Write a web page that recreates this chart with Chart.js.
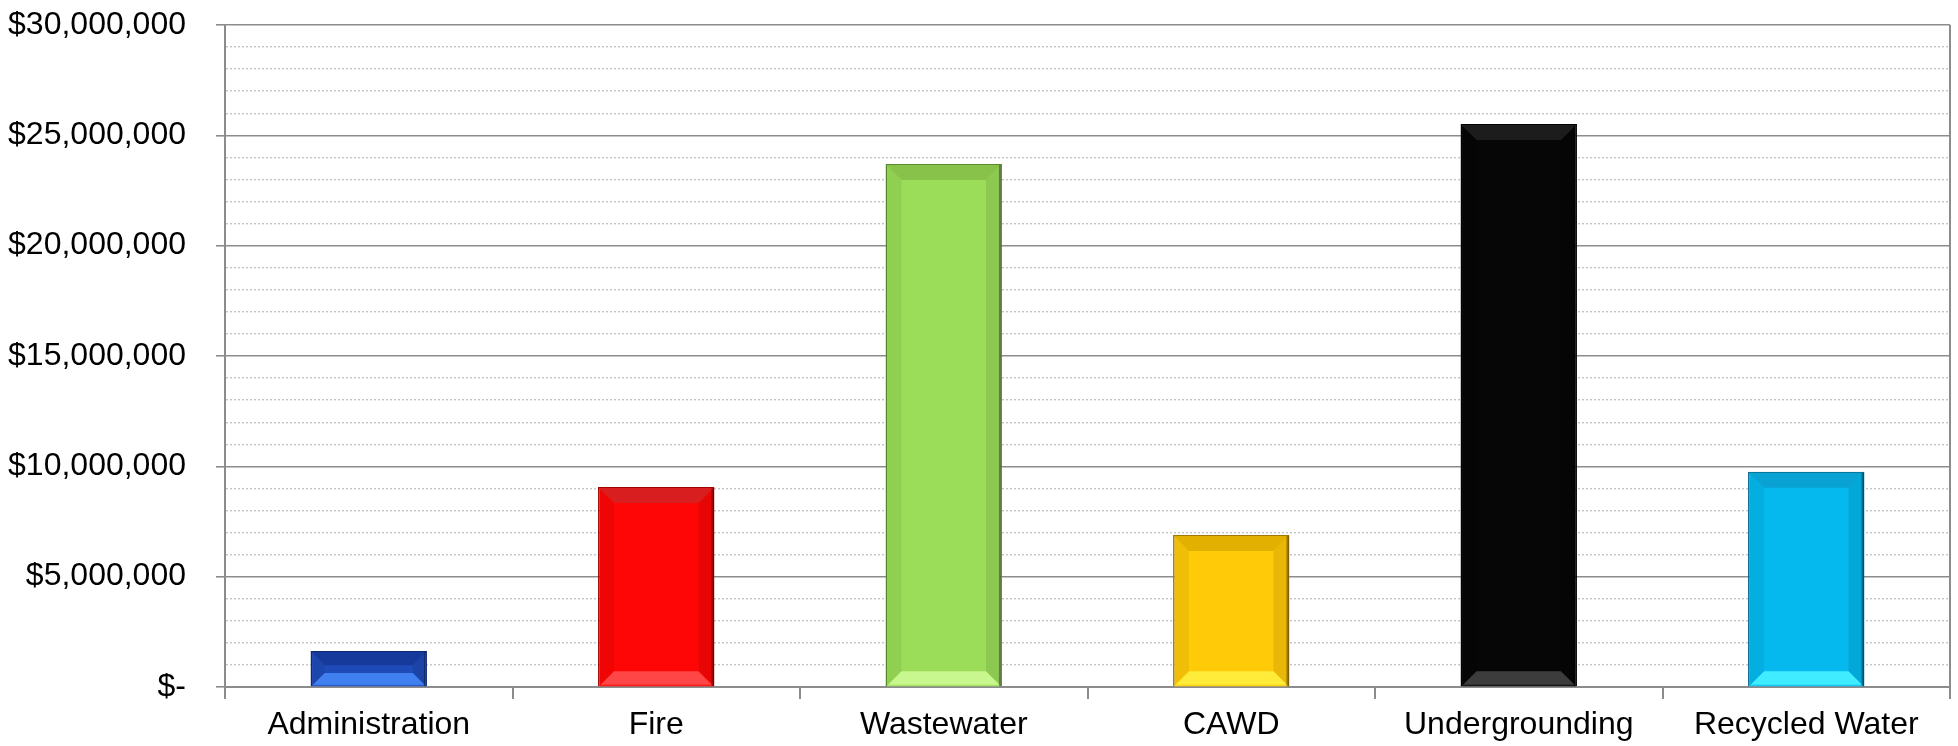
<!DOCTYPE html>
<html>
<head>
<meta charset="utf-8">
<script src="https://cdn.jsdelivr.net/npm/chart.js@4/dist/chart.umd.min.js"></script>
<style>
	html, body { margin: 0; padding: 0; background: #fff; }
	#wrap { width: 1958px; height: 746px; }
</style>
</head>
<body>
<div id="wrap"><canvas id="budgetChart" width="1958" height="746"></canvas></div>
<script>

// values
const departments = ['Administration', 'Fire', 'Wastewater', 'CAWD', 'Undergrounding', 'Recycled Water'];
const amounts = [1630000, 9060000, 23700000, 6890000, 25510000, 9750000];

const barColors = ['#1f4bb8', '#ff0606', '#9bdc58', '#ffca08', '#060606', '#05b9ee'];
const barEdges = ['#0c2a78', '#a00000', '#5a8a2a', '#a07800', '#000000', '#03688a'];
// bevel shades: top face darker, bottom face lighter
const bevelTops = ['#163a9c', '#d81e1e', '#88c24a', '#e2b000', '#1c1c1c', '#0aa2d2'];
const bevelBottoms = ['#3f7ff0', '#ff4646', '#c9f78f', '#ffec3a', '#3c3c3c', '#40ecff'];

const yMin = 0;
const yMax = 30000000;
const minorStep = 1000000;
const majorStep = 5000000;

const gridGray = '#8c8c8c';
const dotGray = '#c4c4c4';
const fontFamily = "'Liberation Sans', Arial, sans-serif";

function isMajor(c) {
	return c.tick && c.tick.value % majorStep === 0;
}

function moneyLabel(v) {
	if (v % majorStep !== 0) return '';
	if (v === 0) return '$-';
	return '$' + v.toLocaleString('en-US');
}

// excel-ish bevel on top of each bar, uses the bar elements' own geometry
const bevelPlugin = {
	id: 'bevel',
	afterDatasetsDraw(chart) {
		const ctx = chart.ctx;
		const meta = chart.getDatasetMeta(0);
		meta.data.forEach((bar, i) => {
			const { x, y, base, width } = bar.getProps(['x', 'y', 'base', 'width'], true);
			const l = x - width / 2 + 1, r = x + width / 2 - 1, t = y + 1, B = base;
			const b = Math.min(15, (B - t) / 2.6);
			const poly = (pts, fill) => {
				ctx.beginPath();
				ctx.moveTo(pts[0][0], pts[0][1]);
				for (let k = 1; k < pts.length; k++) ctx.lineTo(pts[k][0], pts[k][1]);
				ctx.closePath();
				ctx.fillStyle = fill;
				ctx.fill();
			};
			ctx.save();
			// sides
			poly([[l, t], [l + b, t + b], [l + b, B - b], [l, B]], 'rgba(0,0,0,0.06)');
			poly([[r, t], [r - b, t + b], [r - b, B - b], [r, B]], 'rgba(0,0,0,0.09)');
			// top face
			const gt = ctx.createLinearGradient(0, t, 0, t + b);
			gt.addColorStop(0, bevelTops[i]);
			gt.addColorStop(1, barColors[i]);
			poly([[l, t], [r, t], [r - b, t + b], [l + b, t + b]], bevelTops[i]);
			// bottom face
			const gb = ctx.createLinearGradient(0, B - b, 0, B);
			gb.addColorStop(0, bevelBottoms[i]);
			gb.addColorStop(0.85, bevelBottoms[i]);
			gb.addColorStop(1, barColors[i]);
			poly([[l, B], [r, B], [r - b, B - b], [l + b, B - b]], gb);
			// dark right edge
			ctx.fillStyle = 'rgba(0,0,0,0.35)';
			ctx.fillRect(r - 2, t, 2, B - t);
			ctx.restore();
		});
	}
};

const ctx = document.getElementById('budgetChart').getContext('2d');
const budgetChart = new Chart(ctx, {
	type: 'bar',
	data: {
		labels: departments,
		datasets: [{
			data: amounts,
			backgroundColor: barColors,
			borderColor: barEdges,
			borderWidth: 1.5,
			barPercentage: 0.405,
			categoryPercentage: 1.0
		}]
	},
	options: {
		responsive: false,
		animation: false,
		devicePixelRatio: 1,
		layout: { padding: { top: 25, right: 8, left: 0, bottom: 0 } },
		plugins: {
			legend: { display: false },
			tooltip: { enabled: false }
		},
		scales: {
			x: {
				offset: true,
				grid: {
					offset: true,
					color: c => (c.tick ? 'transparent' : gridGray),
					lineWidth: 2,
					tickColor: gridGray,
					tickLength: 12,
					tickWidth: 2
				},
				border: { color: gridGray, width: 2 },
				ticks: {
					color: '#000',
					padding: 7,
					font: { family: fontFamily, size: 32 },
					maxRotation: 0
				},
				afterFit(scale) { scale.height = 59; }
			},
			y: {
				min: yMin,
				max: yMax,
				grid: {
					color: c => (isMajor(c) ? gridGray : dotGray),
					lineWidth: c => (isMajor(c) ? 1.6 : 1.4),
					tickColor: c => (isMajor(c) ? gridGray : 'transparent'),
					tickLength: 9,
					tickWidth: 1.6
				},
				border: {
					color: gridGray,
					width: 2,
					dash: c => (c.tick && c.tick.value % majorStep !== 0 ? [2, 2] : [])
				},
				ticks: {
					stepSize: minorStep,
					autoSkip: false,
					color: '#000',
					padding: 30,
					font: { family: fontFamily, size: 32 },
					callback: v => moneyLabel(v)
				},
				afterFit(scale) {
					scale.width = 225;
					// tick padding is only wanted sideways, not above/below the axis
					scale.paddingTop = 20;
					scale.paddingBottom = 20;
				}
			}
		}
	},
	plugins: [bevelPlugin]
});
</script>
</body>
</html>
